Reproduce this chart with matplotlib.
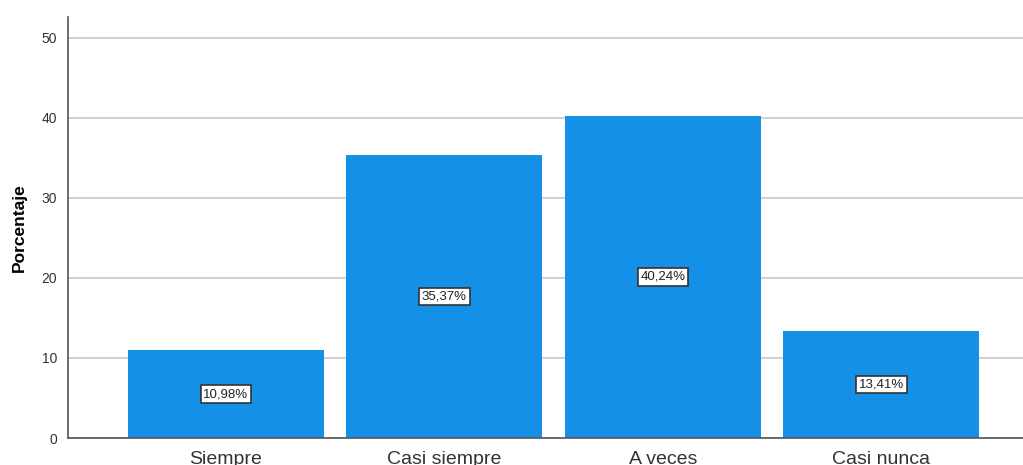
import numpy as np
import matplotlib.pyplot as plt

# Datos
categorias = ["Siempre", "Casi siempre", "A veces", "Casi nunca"]
porcentajes = [10.98, 35.37, 40.24, 13.41]
etiquetas = ["10,98%", "35,37%", "40,24%", "13,41%"]
yticks = [0, 10, 20, 30, 40, 50]

plt.rcParams['font.family'] = ['Liberation Sans', 'DejaVu Sans']

fig = plt.figure(figsize=(10.23, 4.65), dpi=100)
ax = fig.add_axes([68/1023, 27/465, 955/1023, 421/465])

x = np.arange(len(categorias))
ax.bar(x, porcentajes, width=0.897, color="#1490e6", zorder=2)

for xi, v, lab in zip(x, porcentajes, etiquetas):
    ax.text(xi, v / 2, lab, ha="center", va="center", fontsize=9.5, color="#222222", zorder=3,
            bbox=dict(boxstyle="square,pad=0.2", fc="white", ec="#333333", lw=1.2))

ax.set_xlim(-0.723, 3.648)
ax.set_ylim(0, 52.6)
ax.set_yticks(yticks)
ax.set_xticks(x)
ax.set_xticklabels(categorias, fontsize=14, color="#333333")
ax.tick_params(axis="x", length=0, pad=9)
ax.tick_params(axis="y", length=0, pad=8, labelsize=10, labelcolor="#333333")
ax.yaxis.grid(True, color="#d2d2d2", lw=1.5, zorder=1)
ax.set_ylabel("Porcentaje", fontsize=12.5, fontweight="bold", labelpad=10)

for s in ["top", "right"]:
    ax.spines[s].set_visible(False)
for s in ["left", "bottom"]:
    ax.spines[s].set_color("#555555")
    ax.spines[s].set_linewidth(1.2)

fig.savefig("out.png", dpi=100)
